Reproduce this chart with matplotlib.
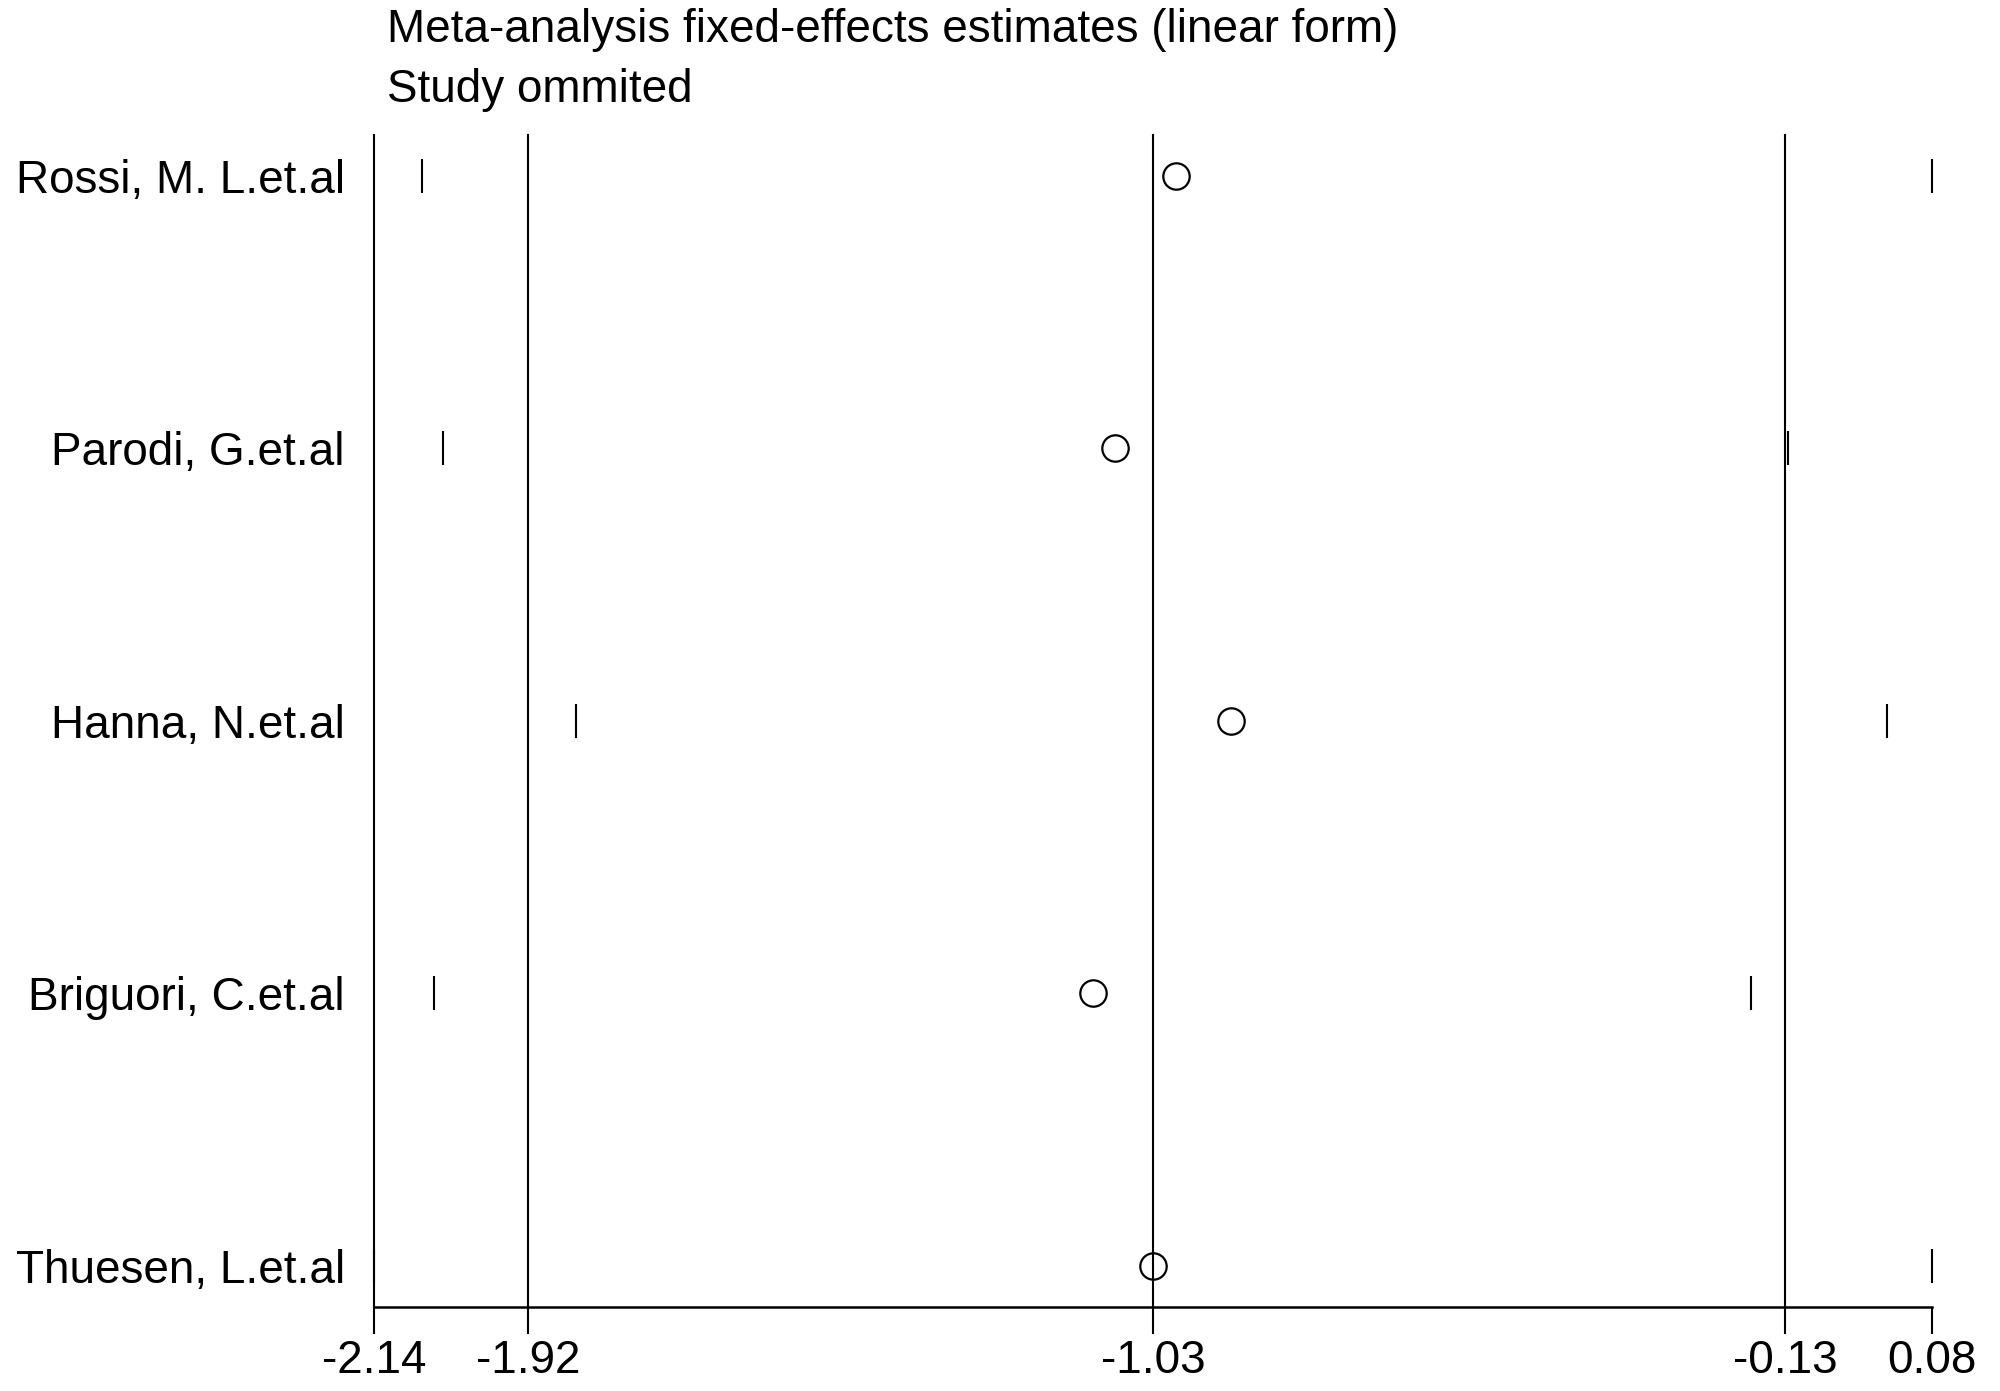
import matplotlib
matplotlib.use("Agg")
import matplotlib.pyplot as plt

plt.rcParams['font.family'] = ['Liberation Sans', 'DejaVu Sans']

# study omitted -> pooled estimate and 95% CI of the remaining studies
studies = ["Rossi, M. L.et.al", "Parodi, G.et.al", "Hanna, N.et.al",
           "Briguori, C.et.al", "Thuesen, L.et.al"]
estimate = [-0.998, -1.084, -0.919, -1.116, -1.03]
ci_low = [-2.071, -2.042, -1.852, -2.054, -2.14]
ci_high = [0.08, -0.126, 0.015, -0.178, 0.08]

# overall estimate lines and axis ticks
ref_lines = [-2.14, -1.92, -1.03, -0.13]
xticks = [-2.14, -1.92, -1.03, -0.13, 0.08]

fig = plt.figure(figsize=(20, 13.91), dpi=100)
ax = fig.add_axes([0.187, 0.0607, 0.7792, 0.8422])

rows = list(range(1, len(studies) + 1))

for v in ref_lines:
    ax.axvline(v, color='black', lw=1.5, clip_on=False)

ax.plot(ci_low, rows, ls='none', marker='|', ms=24.5, mew=1.5,
        color='black', clip_on=False)
ax.plot(ci_high, rows, ls='none', marker='|', ms=24.5, mew=1.5,
        color='black', clip_on=False)
ax.plot(estimate, rows, ls='none', marker='o', ms=19, mfc='none',
        mec='black', mew=1.6, clip_on=False)

ax.set_xlim(xticks[0], xticks[-1])
ax.set_ylim(5.149, 0.851)

ax.set_xticks(xticks)
ax.set_xticklabels([f"{v:.2f}" for v in xticks])
ax.set_yticks(rows)
ax.set_yticklabels(studies)

ax.tick_params(axis='x', length=19.5, width=1.5, labelsize=33, pad=4)
ax.tick_params(axis='y', length=0, labelsize=33, pad=21)

for s in ['top', 'right', 'left']:
    ax.spines[s].set_visible(False)
ax.spines['bottom'].set_linewidth(1.8)

fig.text(0.1935, 1 - 42 / 1391, "Meta-analysis fixed-effects estimates (linear form)",
         fontsize=33, va='baseline')
fig.text(0.1935, 1 - 102 / 1391, "Study ommited", fontsize=33, va='baseline')

fig.savefig("out.png", dpi=100)
